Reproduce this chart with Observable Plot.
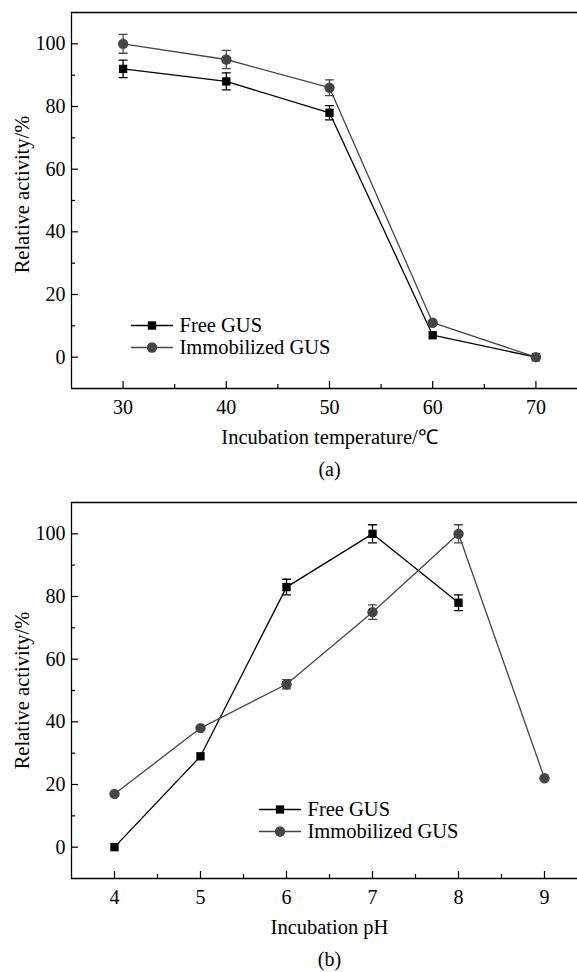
<!DOCTYPE html>
<html>
<head>
<meta charset="utf-8">
<script src="https://cdn.jsdelivr.net/npm/d3@7"></script>
<script src="https://cdn.jsdelivr.net/npm/@observablehq/plot@0.6"></script>
<style>
  html, body { margin: 0; padding: 0; background: #fff; overflow: hidden; }
  #chart svg { display: block; max-width: none !important; }
</style>
</head>
<body>
<div id="chart"></div>
<script>
// ---------- data ----------
const seriesNames = ["Free GUS", "Immobilized GUS"];
const seriesColors = ["#000000", "#454545"];

const yTicks = [0, 20, 40, 60, 80, 100];
const yMinor = [10, 30, 50, 70, 90];
const yDomain = [-10, 110];

// (a) temperature
const tempTicks = [30, 40, 50, 60, 70];
const tempMinor = [35, 45, 55, 65];
const tempDomain = [25, 75];
const freeTempX = [30, 40, 50, 60, 70];
const freeTempY = [92, 88, 78, 7, 0];
const freeTempErr = [2.8, 2.7, 2.3, 0, 0];
const immTempX = [30, 40, 50, 60, 70];
const immTempY = [100, 95, 86, 11, 0];
const immTempErr = [3, 2.9, 2.5, 0, 0];

// (b) pH
const phTicks = [4, 5, 6, 7, 8, 9];
const phMinor = [4.5, 5.5, 6.5, 7.5, 8.5];
const phDomain = [3.5, 9.5];
const freePhX = [4, 5, 6, 7, 8];
const freePhY = [0, 29, 83, 100, 78];
const freePhErr = [0, 0, 2.5, 2.9, 2.5];
const immPhX = [4, 5, 6, 7, 8, 9];
const immPhY = [17, 38, 52, 75, 100, 22];
const immPhErr = [0, 0, 1.5, 2.3, 2.9, 0];

// ---------- helpers ----------
const rows = (xs, ys, es) => xs.map((x, i) => ({x, y: ys[i], err: es[i]}));
const lineShape = {draw(ctx, l) { ctx.moveTo(0, 0); ctx.lineTo(0, -l); }};
const symbols = ["square", "circle"];
const radii = [4.7, 5.2];
const FONT = "Liberation Serif, Times New Roman, serif";
const intFmt = d3.format("d");

function panel({height, marginTop, marginBottom, xDomain, xTicks, xMinor, series, xLabel, tag, legendDx, legendDy, yLabelDy}) {
  const marks = [
    Plot.ruleX([xDomain[0]], {stroke: "#000", strokeWidth: 1.3}),
    Plot.ruleY(yDomain, {stroke: "#000", strokeWidth: 1.3}),
    Plot.axisY({ticks: yTicks, tickSize: 0, tickPadding: 6, tickFormat: intFmt, label: null, fontSize: 20}),
    Plot.axisY({ticks: yTicks, tickSize: -7, text: null, label: null, strokeWidth: 1.2}),
    Plot.axisY({ticks: yMinor, tickSize: -4, text: null, label: null, strokeWidth: 1.2}),
    Plot.axisX({ticks: xTicks, tickSize: 0, tickPadding: 11, tickFormat: intFmt, label: null, fontSize: 20}),
    Plot.axisX({ticks: xTicks, tickSize: -7, text: null, label: null, strokeWidth: 1.2}),
    Plot.axisX({ticks: xMinor, tickSize: -4, text: null, label: null, strokeWidth: 1.2}),
    Plot.text(["Relative activity/%"], {frameAnchor: "left", text: d => d, rotate: -90, textAnchor: "middle", lineAnchor: "middle", dx: -49, dy: yLabelDy, fontSize: 20.5, fill: "#000"}),
    Plot.text([xLabel], {frameAnchor: "bottom", text: d => d, textAnchor: "middle", lineAnchor: "middle", dy: 48.5, fontSize: 20.5, fill: "#000"}),
    Plot.text([tag], {frameAnchor: "bottom", text: d => d, textAnchor: "middle", lineAnchor: "middle", dy: 81.5, fontSize: 20, fill: "#000"})
  ];
  series.forEach((data, i) => {
    const c = seriesColors[i];
    const withErr = data.filter(d => d.err > 0);
    marks.push(
      Plot.line(data, {x: "x", y: "y", stroke: c, strokeWidth: 1.3}),
      Plot.dot(data, {x: "x", y: "y", symbol: symbols[i], r: radii[i], fill: c, stroke: "none"}),
      Plot.ruleX(withErr, {x: "x", y1: d => d.y - d.err, y2: d => d.y + d.err, stroke: c, strokeWidth: 1.3}),
      Plot.vector(withErr, {x: "x", y: d => d.y + d.err, rotate: 90, length: 8, anchor: "middle", shape: lineShape, stroke: c, strokeWidth: 1.3}),
      Plot.vector(withErr, {x: "x", y: d => d.y - d.err, rotate: 90, length: 8, anchor: "middle", shape: lineShape, stroke: c, strokeWidth: 1.3}),
      // legend entry
      Plot.vector([seriesNames[i]], {frameAnchor: "top-left", dx: legendDx, dy: legendDy + i * 22, rotate: 90, length: 41, anchor: "start", shape: lineShape, stroke: c, strokeWidth: 1.3}),
      Plot.dot([seriesNames[i]], {frameAnchor: "top-left", dx: legendDx + 20.5, dy: legendDy + i * 22, symbol: symbols[i], r: radii[i], fill: c, stroke: "none"}),
      Plot.text([seriesNames[i]], {frameAnchor: "top-left", text: d => d, dx: legendDx + 48, dy: legendDy + i * 22, textAnchor: "start", lineAnchor: "middle", fontSize: 20.5, fill: "#000"})
    );
  });
  return Plot.plot({
    width: 587,
    height,
    marginTop,
    marginBottom,
    marginLeft: 71,
    marginRight: 0,
    x: {domain: xDomain},
    y: {domain: yDomain},
    style: {fontFamily: FONT, fontSize: "20px", background: "#fff", color: "#000", overflow: "visible", maxWidth: "none"},
    marks
  });
}

const chart = document.getElementById("chart");
chart.appendChild(panel({
  height: 480, marginTop: 12, marginBottom: 92,
  xDomain: tempDomain, xTicks: tempTicks, xMinor: tempMinor,
  series: [rows(freeTempX, freeTempY, freeTempErr), rows(immTempX, immTempY, immTempErr)],
  xLabel: "Incubation temperature/℃", tag: "(a)",
  legendDx: 60, legendDy: 313, yLabelDy: -6
}));
chart.appendChild(panel({
  height: 492, marginTop: 22, marginBottom: 94,
  xDomain: phDomain, xTicks: phTicks, xMinor: phMinor,
  series: [rows(freePhX, freePhY, freePhErr), rows(immPhX, immPhY, immPhErr)],
  xLabel: "Incubation pH", tag: "(b)",
  legendDx: 188, legendDy: 307, yLabelDy: 0
}));
</script>
</body>
</html>
